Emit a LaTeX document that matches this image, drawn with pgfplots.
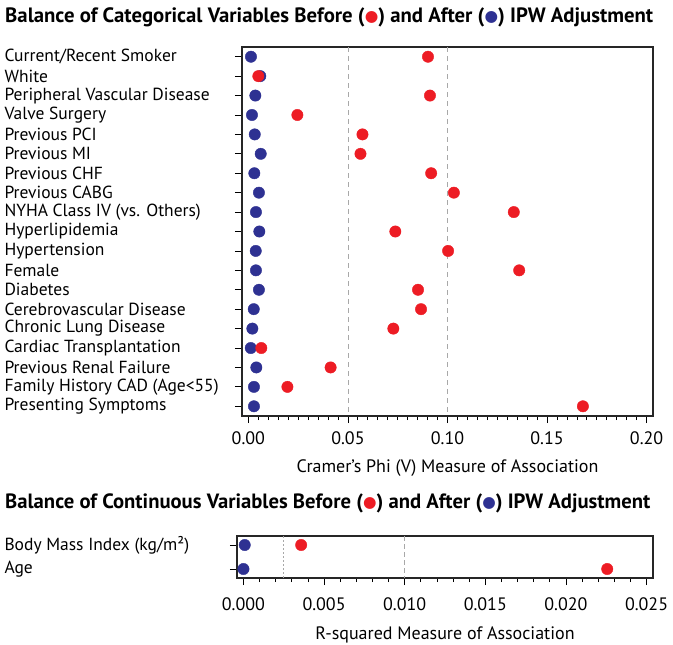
\documentclass[border=0pt]{standalone}
\usepackage{pgfplots}
\pgfplotsset{compat=1.18}
\usepackage{fontspec}
\setmainfont{PT Sans}
\newfontfamily\dejavu{DejaVu Sans}
\definecolor{ptred}{HTML}{ED1C24}
\definecolor{ptblue}{HTML}{2E3192}
\definecolor{gridgray}{HTML}{A8A8A8}

\pgfplotstableread{
row after before
1 0.0013 0.0902
2 0.0060 0.0050
3 0.0035 0.0912
4 0.0018 0.0246
5 0.0032 0.0573
6 0.0062 0.0563
7 0.0030 0.0918
8 0.0053 0.1032
9 0.0038 0.1333
10 0.0055 0.0738
11 0.0037 0.1003
12 0.0038 0.1360
13 0.0053 0.0852
14 0.0027 0.0867
15 0.0020 0.0728
16 0.0012 0.0065
17 0.0040 0.0413
18 0.0028 0.0196
19 0.0028 0.1680
}\cattable

\pgfplotstableread{
row after before
1 0.00008 0.00358
2 0.00000 0.02256
}\contable

\newcommand{\reddot}{\raisebox{0.8pt}{\dejavu\fontsize{13.5}{14}\selectfont\textcolor{ptred}{●}}}
\newcommand{\bluedot}{\raisebox{0.8pt}{\dejavu\fontsize{13.5}{14}\selectfont\textcolor{ptblue}{●}}}

\begin{document}
\begin{tikzpicture}
\path[use as bounding box] (0,0) rectangle (673pt,-645pt);

\pgfplotsset{
  dotstyle/.style={
    scale only axis,
    anchor=south west,
    y dir=reverse,
    axis line style={line width=1.1pt, black!85},
    tick style={black, line width=0.8pt},
    tick align=outside,
    xtick pos=left, ytick pos=left,
    major tick length=7pt,
    minor tick length=4pt,
    scaled x ticks=false,
    /pgf/number format/assume math mode=true,
    xticklabel style={font=\fontsize{18}{20}\selectfont},
    yticklabel style={font=\fontsize{17.5}{19}\selectfont, anchor=west},
    label style={font=\fontsize{18}{20}\selectfont},
    clip=false,
  }
}

\node[anchor=west, inner sep=0pt] at (5pt,-17pt) {\resizebox{648pt}{!}{\bfseries\fontsize{18}{20}\selectfont Balance of Categorical Variables Before (\reddot) and After (\bluedot) IPW Adjustment}};

\begin{axis}[dotstyle,
  at={(242pt,-416pt)},
  width=411pt, height=369pt,
  xmin=-0.0032, xmax=0.2032,
  ymin=0.5, ymax=19.5,
  xtick={0,0.05,0.1,0.15,0.2},
  xticklabels={0.00,0.05,0.10,0.15,0.20},
  minor x tick num=9,
  ytick={1,...,19},
  yticklabels={Current/Recent Smoker, White, Peripheral Vascular Disease, Valve Surgery, Previous PCI, Previous MI, Previous CHF, Previous CABG, NYHA Class IV (vs. Others), Hyperlipidemia, Hypertension, Female, Diabetes, Cerebrovascular Disease, Chronic Lung Disease, Cardiac Transplantation, Previous Renal Failure, Family History CAD (Age<55), Presenting Symptoms},
  yticklabel style={xshift=-234pt},
  xticklabel style={yshift=-5pt},
  xlabel style={yshift=-8pt},
  xlabel={Cramer's Phi (V) Measure of Association},
]
\addplot[gridgray, dash pattern=on 5pt off 4pt, line width=0.7pt] coordinates {(0.05,0.5) (0.05,19.5)};
\addplot[gridgray, dash pattern=on 5pt off 4pt, line width=0.7pt] coordinates {(0.1,0.5) (0.1,19.5)};
\addplot[only marks, mark=*, mark size=5.7pt, mark options={fill=ptblue, draw=ptblue}] table[x=after, y=row] {\cattable};
\addplot[only marks, mark=*, mark size=5.7pt, mark options={fill=ptred, draw=ptred}] table[x=before, y=row] {\cattable};
\end{axis}

\node[anchor=west, inner sep=0pt] at (5pt,-503pt) {\resizebox{645pt}{!}{\bfseries\fontsize{18}{20}\selectfont Balance of Continuous Variables Before (\reddot) and After (\bluedot) IPW Adjustment}};

\begin{axis}[dotstyle,
  at={(237pt,-578pt)},
  width=416pt, height=42pt,
  xmin=-0.0004, xmax=0.0254,
  ymin=0.625, ymax=2.375,
  xtick={0,0.005,0.01,0.015,0.02,0.025},
  xticklabels={0.000,0.005,0.010,0.015,0.020,0.025},
  minor x tick num=4,
  ytick={1,2},
  yticklabels={Body Mass Index (kg/m²), Age},
  yticklabel style={xshift=-229pt},
  xticklabel style={yshift=-9pt},
  xlabel style={yshift=-9pt},
  xlabel={R-squared Measure of Association},
]
\addplot[gridgray, dash pattern=on 2pt off 2pt, line width=0.7pt] coordinates {(0.0025,0.625) (0.0025,2.375)};
\addplot[gridgray, dash pattern=on 5pt off 3pt, line width=0.7pt] coordinates {(0.01,0.625) (0.01,2.375)};
\addplot[only marks, mark=*, mark size=5.7pt, mark options={fill=ptblue, draw=ptblue}] table[x=after, y=row] {\contable};
\addplot[only marks, mark=*, mark size=5.7pt, mark options={fill=ptred, draw=ptred}] table[x=before, y=row] {\contable};
\end{axis}
\end{tikzpicture}
\end{document}
